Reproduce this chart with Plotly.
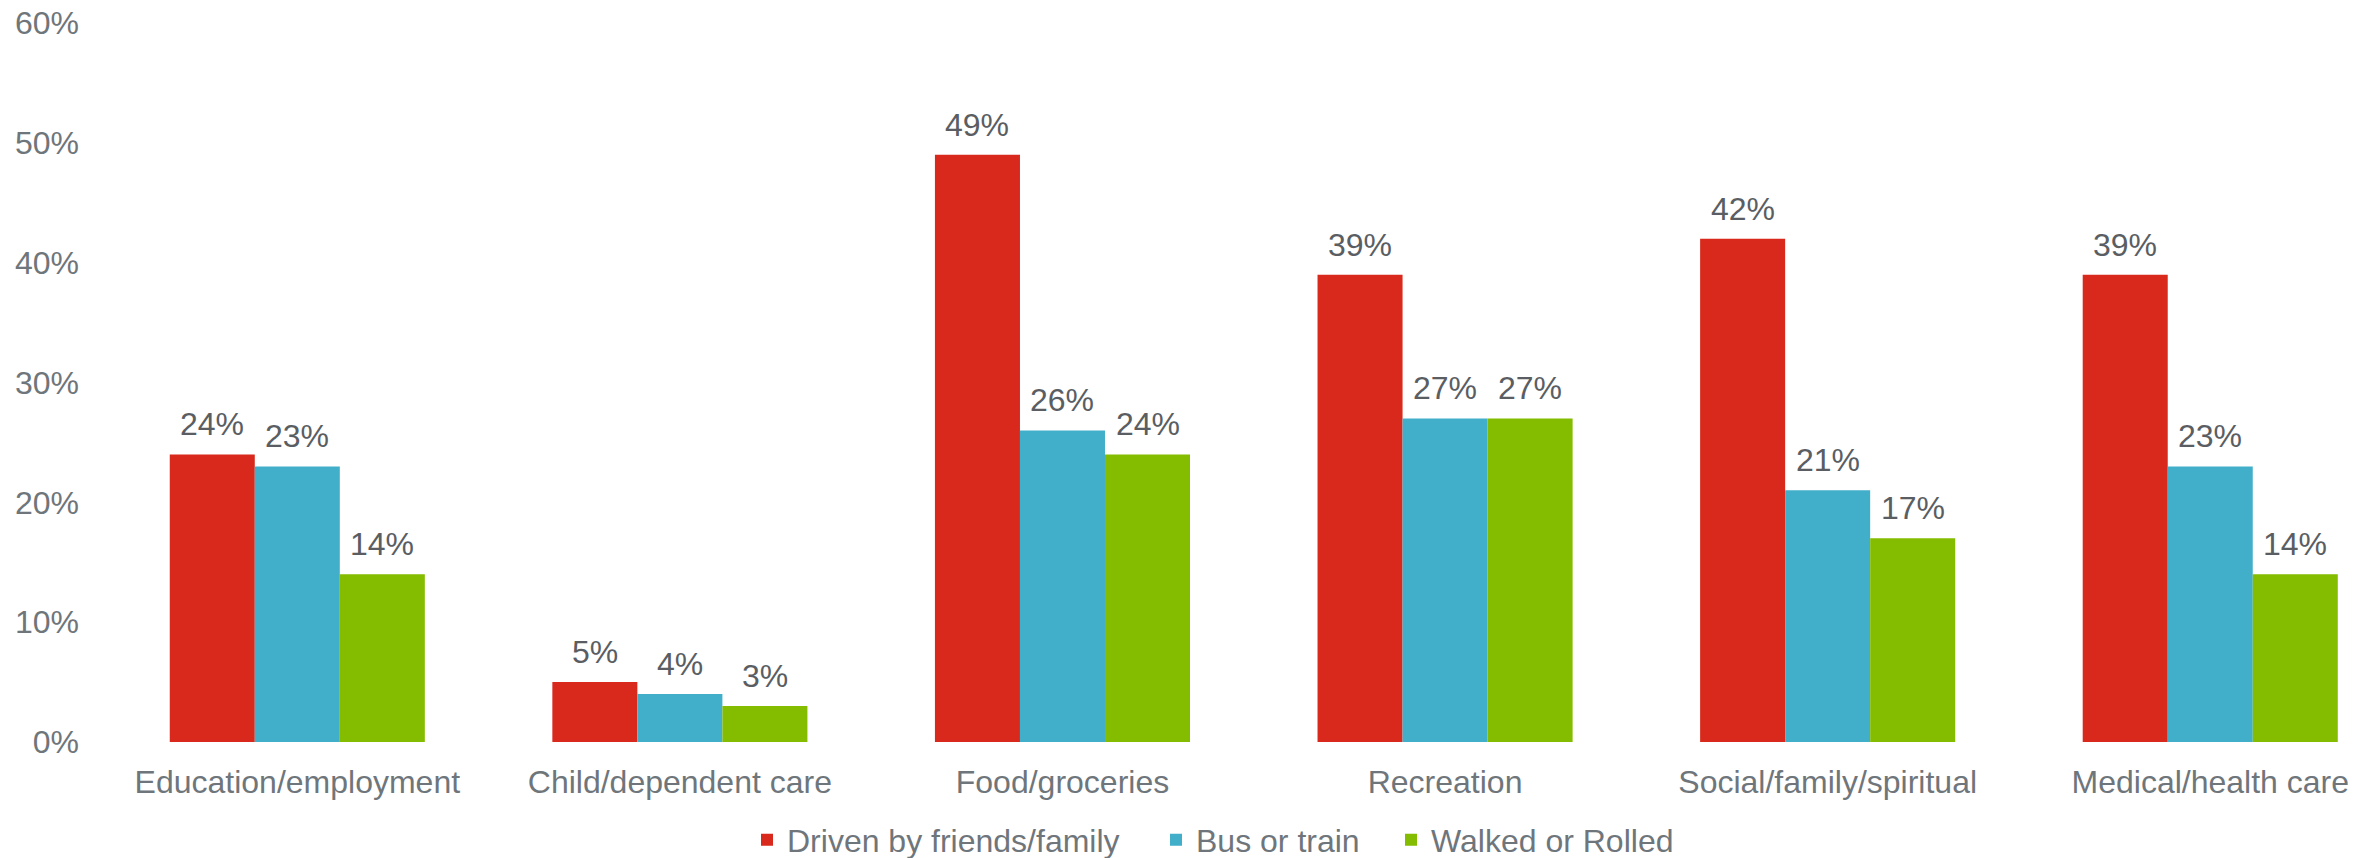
import plotly.graph_objects as go

categories = ["Education/employment", "Child/dependent care", "Food/groceries",
              "Recreation", "Social/family/spiritual", "Medical/health care"]
series_names = ["Driven by friends/family", "Bus or train", "Walked or Rolled"]
driven = [24, 5, 49, 39, 42, 39]
bus = [23, 4, 26, 27, 21, 23]
walked = [14, 3, 24, 27, 17, 14]
y_ticks = [0, 10, 20, 30, 40, 50, 60]
y_tick_labels = ["0%", "10%", "20%", "30%", "40%", "50%", "60%"]

colors = ["#D9291C", "#41AFCA", "#84BD00"]
series_values = [driven, bus, walked]

W, H = 2374, 858
ML, MR, MT, MB = 106, 0, 23, 116
x_range = [-0.5, 5.428]
bargap = 0.3333
plot_w = W - ML - MR
plot_h = H - MT - MB
bar_px = plot_w / (x_range[1] - x_range[0]) * (1 - bargap) / 3

FONT = "Liberation Sans, Arial, sans-serif"
TICK_COLOR = "#6F767B"
LABEL_COLOR = "#5A5E63"

fig = go.Figure()
legend_ids = ["legend", "legend2", "legend3"]
for i, (name, vals, col) in enumerate(zip(series_names, series_values, colors)):
    fig.add_trace(go.Bar(
        x=categories, y=vals, name=name,
        marker=dict(color=col, line=dict(width=0)),
        legend=legend_ids[i],
        hoverinfo="skip",
    ))
    for c, v in zip(categories, vals):
        fig.add_annotation(
            x=c, y=v, xref="x", yref="y",
            text=f"{v}%", showarrow=False,
            xshift=(i - 1) * bar_px, yanchor="bottom", yshift=10,
            font=dict(family=FONT, size=32, color=LABEL_COLOR),
        )

# legend text starting positions (px)
text_starts = [787, 1196, 1431]
leg_y = (MT + plot_h - 840) / plot_h
layout_legends = {}
for lid, ts in zip(legend_ids, text_starts):
    layout_legends[lid] = dict(
        x=(ts - 40 - ML) / plot_w, xanchor="left",
        y=leg_y, yanchor="middle", orientation="h",
        font=dict(family=FONT, size=32, color=TICK_COLOR),
        bgcolor="rgba(0,0,0,0)", itemclick=False, itemdoubleclick=False,
    )

fig.update_layout(
    width=W, height=H,
    margin=dict(l=ML, r=MR, t=MT, b=MB, pad=0, autoexpand=False),
    plot_bgcolor="white", paper_bgcolor="white",
    barmode="group", bargap=bargap, bargroupgap=0,
    font=dict(family=FONT, size=32, color=TICK_COLOR),
    showlegend=True,
    **layout_legends,
)
fig.update_xaxes(
    range=x_range, showgrid=False, showline=False, zeroline=False,
    ticks="", tickfont=dict(family=FONT, size=32, color=TICK_COLOR),
    ticklabelstandoff=18, automargin=False,
)
fig.update_yaxes(
    range=[0, 60], tickvals=y_ticks, ticktext=y_tick_labels,
    showgrid=False, showline=False, zeroline=False,
    ticks="", tickfont=dict(family=FONT, size=32, color=TICK_COLOR),
    ticklabelstandoff=26, automargin=False,
)

fig.write_html(
    "out.html",
    config={"displayModeBar": False},
    post_script="document.body.style.margin='0';document.body.style.overflow='hidden';",
)
